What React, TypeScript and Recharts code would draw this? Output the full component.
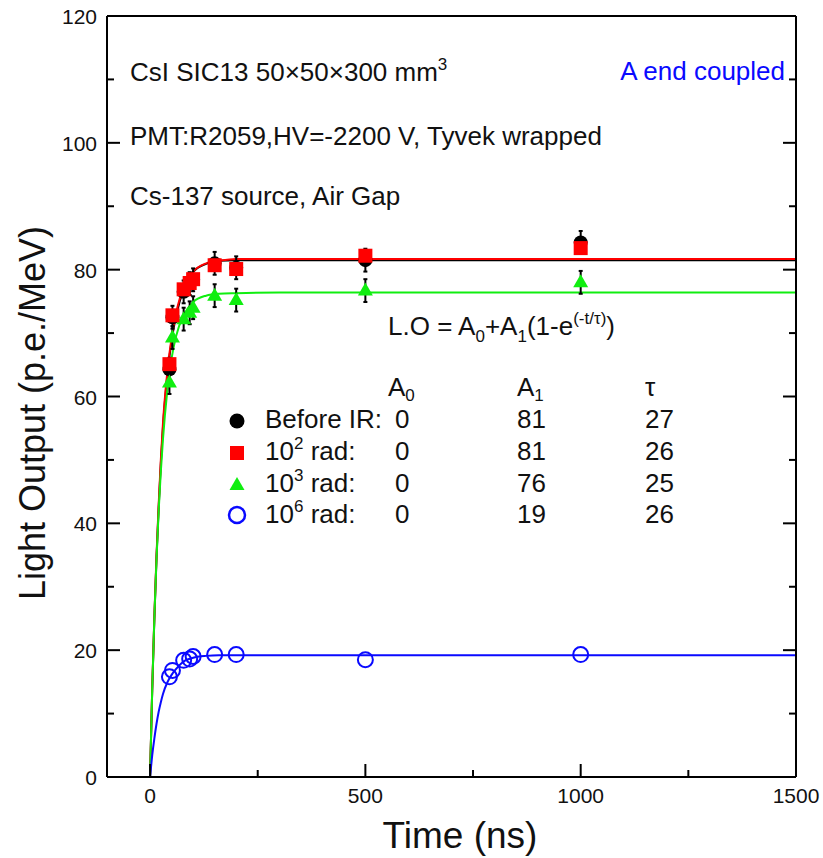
import React from "react";
import { ComposedChart, Line, Scatter, XAxis, YAxis, ErrorBar } from "recharts";

// measured points (ns, p.e./MeV)
const times = [45, 52, 78, 92, 100, 150, 200, 500, 1000];
const beforeIR = [64.3, 72.5, 76.5, 77.8, 78.4, 81.0, 80.3, 81.5, 84.3];
const rad1e2 = [65.1, 72.8, 76.9, 77.9, 78.5, 80.7, 80.1, 82.2, 83.4];
const rad1e3 = [62.2, 69.3, 72.2, 73.2, 74.0, 75.9, 75.2, 76.7, 78.0];
const rad1e6 = [15.8, 16.8, 18.4, 18.6, 19.0, 19.3, 19.3, 18.5, 19.3];
const errBefore = [1.8, 1.8, 1.8, 1.8, 1.8, 1.8, 1.8, 1.8, 1.8];
const errRad3 = [1.8, 1.8, 1.8, 1.8, 1.8, 1.8, 1.8, 1.8, 1.8];

// fitted curves
const fitTimes = [0, 5, 10, 15, 20, 25, 30, 40, 50, 60, 80, 100, 130, 160, 200, 300, 1500];
const fitBefore = [0, 13.7, 25.0, 34.6, 42.5, 49.4, 55.2, 63.3, 68.8, 72.6, 77.3, 79.6, 80.9, 81.4, 81.5, 81.5, 81.5];
const fitRad2 = [0, 14.0, 25.4, 35.0, 43.0, 50.0, 55.8, 63.8, 69.3, 73.0, 77.6, 79.7, 81.0, 81.4, 81.7, 81.7, 81.7];
const fitRad3 = [0, 13.8, 25.2, 34.4, 42.0, 48.2, 53.3, 60.9, 66.0, 69.4, 73.1, 74.9, 75.9, 76.2, 76.3, 76.4, 76.4];
const fitRad6 = [0, 3.4, 6.1, 8.4, 10.3, 11.8, 13.1, 14.9, 16.1, 17.0, 18.3, 18.8, 19.1, 19.2, 19.2, 19.2, 19.2];

// axes
const xTicks = [0, 250, 500, 750, 1000, 1250, 1500];
const xMajor = [0, 500, 1000, 1500];
const yTicks = [0, 10, 20, 30, 40, 50, 60, 70, 80, 90, 100, 110, 120];
const yMajor = [0, 20, 40, 60, 80, 100, 120];

// fit table
const fitLabels = ["Before IR:", "rad:", "rad:", "rad:"];
const fitPowers = ["", "2", "3", "6"];
const fitA0 = [0, 0, 0, 0];
const fitA1 = [81, 81, 76, 19];
const fitTau = [27, 26, 25, 26];

const RED = "#ff0000";
const GREEN = "#10ee10";
const BLUE = "#0a0aff";
const FONT = '"Liberation Sans", Arial, sans-serif';

const pts = (ys: number[], errs?: number[]) =>
  times.map((t, i) => ({ t, v: ys[i], err: errs ? errs[i] : 0 }));
const curve = (ys: number[]) => fitTimes.map((t, i) => ({ t, v: ys[i] }));

const makeTick = (side: "bottom" | "top" | "left" | "right", label: boolean) => (props: any) => {
  const { x, y, payload } = props;
  const v = payload.value;
  const horiz = side === "bottom" || side === "top";
  const major = horiz ? xMajor.includes(v) : yMajor.includes(v);
  const len = major ? 13 : 7;
  let l;
  if (side === "bottom") l = { x1: x, y1: y, x2: x, y2: y - len };
  else if (side === "top") l = { x1: x, y1: y, x2: x, y2: y + len };
  else if (side === "left") l = { x1: x, y1: y, x2: x + len, y2: y };
  else l = { x1: x, y1: y, x2: x - len, y2: y };
  return (
    <g>
      <line {...l} stroke="#000" strokeWidth={2} />
      {label && major && side === "bottom" && (
        <text x={x} y={y + 26} textAnchor="middle" fontSize={21} fontFamily={FONT} fill="#111">
          {v}
        </text>
      )}
      {label && major && side === "left" && (
        <text x={x - 10} y={y + 8} textAnchor="end" fontSize={21} fontFamily={FONT} fill="#111">
          {v}
        </text>
      )}
    </g>
  );
};

const none = () => <g />;
const dot = (fill: string) => (p: any) => <circle cx={p.cx} cy={p.cy} r={7} fill={fill} />;
const square = (p: any) => <rect x={p.cx - 7} y={p.cy - 7} width={14} height={14} fill={RED} />;
const tri = (p: any) => (
  <polygon points={`${p.cx},${p.cy - 8} ${p.cx - 7.5},${p.cy + 5} ${p.cx + 7.5},${p.cy + 5}`} fill={GREEN} />
);
const ring = (p: any) => <circle cx={p.cx} cy={p.cy} r={7.5} fill="none" stroke={BLUE} strokeWidth={2} />;

const rowY = [428, 460, 492, 523];

export default function App() {
  return (
    <div style={{ position: "relative", width: 823, height: 858, background: "#fff" }}>
      <style>{"body{margin:0}"}</style>
      <ComposedChart width={823} height={858} margin={{ top: 15, right: 26, bottom: 51, left: 47 }}>
        <XAxis
          xAxisId={0}
          type="number"
          dataKey="t"
          domain={[-100, 1500]}
          ticks={xTicks}
          interval={0}
          allowDataOverflow
          height={30}
          tickSize={0}
          tickMargin={0}
          axisLine={{ stroke: "#000", strokeWidth: 2 }}
          tickLine={false}
          tick={makeTick("bottom", true)}
        />
        <XAxis
          xAxisId="top"
          orientation="top"
          type="number"
          domain={[-100, 1500]}
          ticks={xTicks}
          interval={0}
          allowDataOverflow
          height={1}
          tickSize={0}
          tickMargin={0}
          axisLine={{ stroke: "#000", strokeWidth: 2 }}
          tickLine={false}
          tick={makeTick("top", false)}
        />
        <YAxis
          yAxisId={0}
          type="number"
          dataKey="v"
          domain={[0, 120]}
          ticks={yTicks}
          interval={0}
          allowDataOverflow
          width={60}
          tickSize={0}
          tickMargin={0}
          axisLine={{ stroke: "#000", strokeWidth: 2 }}
          tickLine={false}
          tick={makeTick("left", true)}
        />
        <YAxis
          yAxisId="right"
          orientation="right"
          type="number"
          domain={[0, 120]}
          ticks={yTicks}
          interval={0}
          allowDataOverflow
          width={1}
          tickSize={0}
          tickMargin={0}
          axisLine={{ stroke: "#000", strokeWidth: 2 }}
          tickLine={false}
          tick={makeTick("right", false)}
        />

        <Line data={curve(fitBefore)} dataKey="v" type="monotone" stroke="#000" strokeWidth={2} dot={false} isAnimationActive={false} />
        <Line data={curve(fitRad2)} dataKey="v" type="monotone" stroke={RED} strokeWidth={2} dot={false} isAnimationActive={false} />
        <Line data={curve(fitRad3)} dataKey="v" type="monotone" stroke={GREEN} strokeWidth={2} dot={false} isAnimationActive={false} />
        <Line data={curve(fitRad6)} dataKey="v" type="monotone" stroke={BLUE} strokeWidth={2} dot={false} isAnimationActive={false} />

        {/* error bars first so the markers sit on top of them */}
        <Scatter data={pts(beforeIR, errBefore)} dataKey="v" shape={none} isAnimationActive={false}>
          <ErrorBar dataKey="err" direction="y" width={2} stroke="#000" strokeWidth={2} isAnimationActive={false} />
        </Scatter>
        <Scatter data={pts(rad1e3, errRad3)} dataKey="v" shape={none} isAnimationActive={false}>
          <ErrorBar dataKey="err" direction="y" width={2} stroke="#000" strokeWidth={2} isAnimationActive={false} />
        </Scatter>

        <Scatter data={pts(beforeIR)} dataKey="v" shape={dot("#000")} isAnimationActive={false} />
        <Scatter data={pts(rad1e3)} dataKey="v" shape={tri} isAnimationActive={false} />
        <Scatter data={pts(rad1e2)} dataKey="v" shape={square} isAnimationActive={false} />
        <Scatter data={pts(rad1e6)} dataKey="v" shape={ring} isAnimationActive={false} />
      </ComposedChart>

      <svg
        width={823}
        height={858}
        style={{ position: "absolute", left: 0, top: 0, pointerEvents: "none" }}
        fontFamily={FONT}
        fill="#111"
      >
        <text x={130} y={81} fontSize={26}>
          CsI SIC13 50×50×300 mm<tspan dy={-11} fontSize={17}>3</tspan>
        </text>
        <text x={130} y={145} fontSize={26}>PMT:R2059,HV=-2200 V, Tyvek wrapped</text>
        <text x={130} y={205} fontSize={26}>Cs-137 source, Air Gap</text>
        <text x={785} y={80} fontSize={26} textAnchor="end" fill={BLUE}>A end coupled</text>

        <text x={388} y={335} fontSize={26}>
          L.O = A<tspan dy={7} fontSize={17}>0</tspan>
          <tspan dy={-7}>+A</tspan>
          <tspan dy={7} fontSize={17}>1</tspan>
          <tspan dy={-7}>(1-e</tspan>
          <tspan dy={-11} fontSize={17}>(-t/τ)</tspan>
          <tspan dy={11}>)</tspan>
        </text>

        <text x={388} y={396} fontSize={26}>
          A<tspan dy={5} fontSize={17}>0</tspan>
        </text>
        <text x={517} y={396} fontSize={26}>
          A<tspan dy={5} fontSize={17}>1</tspan>
        </text>
        <text x={645} y={396} fontSize={26}>τ</text>

        {fitLabels.map((lab, i) => (
          <g key={i}>
            <text x={265} y={rowY[i]} fontSize={26}>
              {fitPowers[i] ? (
                <>
                  10<tspan dy={-11} fontSize={17}>{fitPowers[i]}</tspan>
                  <tspan dy={11}> {lab}</tspan>
                </>
              ) : (
                lab
              )}
            </text>
            <text x={395} y={rowY[i]} fontSize={26}>{fitA0[i]}</text>
            <text x={517} y={rowY[i]} fontSize={26}>{fitA1[i]}</text>
            <text x={645} y={rowY[i]} fontSize={26}>{fitTau[i]}</text>
          </g>
        ))}

        <circle cx={237} cy={rowY[0] - 7} r={7.5} fill="#000" />
        <rect x={230} y={rowY[1] - 14} width={14} height={14} fill={RED} />
        <polygon points={`237,${rowY[2] - 15} 229.5,${rowY[2] - 2} 244.5,${rowY[2] - 2}`} fill={GREEN} />
        <circle cx={237} cy={rowY[3] - 8} r={8} fill="none" stroke={BLUE} strokeWidth={2.5} />

        <text x={460} y={848} fontSize={37} textAnchor="middle">Time (ns)</text>
        <text x={45} y={413} fontSize={36} textAnchor="middle" transform="rotate(-90 45 413)">
          Light Output (p.e./MeV)
        </text>
      </svg>
    </div>
  );
}
